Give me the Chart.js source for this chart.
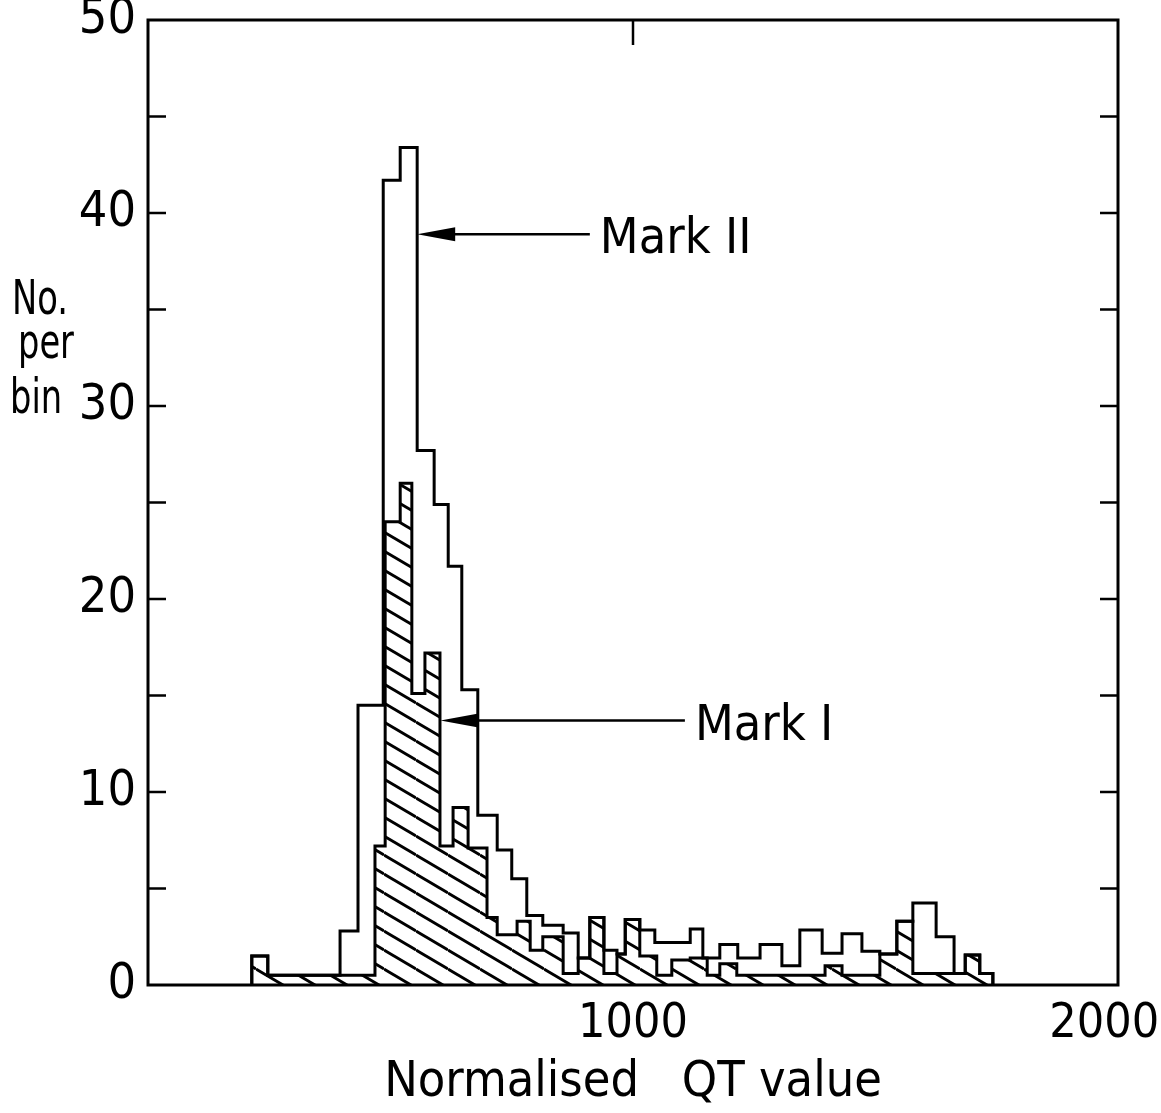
<!DOCTYPE html>
<html>
<head>
<meta charset="utf-8">
<script src="https://cdn.jsdelivr.net/npm/chart.js@4.4.1/dist/chart.umd.min.js"></script>
<style>
    html, body { margin: 0; padding: 0; background: #fff; }
</style>
</head>
<body>
<canvas id="qtChart" width="1161" height="1113"></canvas>
<script>
// bin edges (normalised QT value) and counts per bin
const markIIEdges = [214, 247, 396, 433, 485, 520, 555, 590, 619, 647, 680, 720, 750, 781, 814, 856, 887, 911, 940, 967,
    984, 1014, 1045, 1118, 1144, 1179, 1216, 1262, 1307, 1344, 1390, 1431, 1472, 1509, 1544, 1577, 1625, 1662, 1685, 1715, 1742];
const markIICounts = [1.5, 0.5, 2.8, 14.5, 41.7, 43.4, 27.7, 24.9, 21.7, 15.3, 8.8, 7.0, 5.5, 3.6, 3.1, 2.7, 1.4, 3.5, 1.8, 1.6,
    3.4, 2.85, 2.2, 2.9, 1.4, 2.1, 1.4, 2.1, 1.0, 2.85, 1.65, 2.65, 1.75, 1.6, 3.3, 4.25, 2.5, 0.6, 1.55, 0.6];

const markIEdges = [214, 247, 468, 489, 520, 544, 571, 602, 629, 660, 699, 720, 761, 788, 814, 856, 887, 911, 940, 967,
    984, 1014, 1049, 1080, 1118, 1153, 1179, 1214, 1396, 1431, 1509, 1544, 1577, 1685, 1715, 1742];
const markICounts = [1.5, 0.5, 7.2, 24.0, 26.0, 15.1, 17.2, 7.2, 9.2, 7.1, 3.5, 2.6, 3.3, 1.8, 2.5, 0.6, 1.4, 3.5, 0.6, 1.6,
    3.4, 1.5, 0.5, 1.3, 1.4, 0.5, 1.1, 0.5, 1.0, 0.5, 1.6, 3.3, 0.6, 1.55, 0.6];

const xTickValues = [1000, 2000];
const yTickValues = [0, 10, 20, 30, 40, 50];
const yTickMarks = [5, 10, 15, 20, 25, 30, 35, 40, 45];
const topTickMarks = [1000];
const yTitleLines = ["No.", "per", "bin"];
const xTitle = "Normalised   QT value";
const seriesNames = ["Mark II", "Mark I"];

// where the two arrows point (data units)
const arrowTips = [{ x: 555, y: 38.9, end: 911 }, { x: 603, y: 13.7, end: 1107 }];

const FAMILY = "'DejaVu Sans', sans-serif";
const STRETCH = "condensed";   // passed through the weight slot so Chart.js keeps it

function stepPoints(edges, counts) {
    const pts = [{ x: edges[0], y: 0 }];
    counts.forEach((c, i) => pts.push({ x: edges[i], y: c }));
    pts.push({ x: edges[edges.length - 1], y: 0 });
    return pts;
}

function makeHatch() {
    const w = 32, h = 19;
    const c = document.createElement("canvas");
    c.width = w; c.height = h;
    const g = c.getContext("2d");
    g.strokeStyle = "#000";
    g.lineWidth = 2.8;
    [-1, 0, 1].forEach(k => {
        g.beginPath();
        g.moveTo(0, k * h);
        g.lineTo(w, h + k * h);
        g.stroke();
    });
    return g.createPattern(c, "repeat");
}

// frame, inward ticks, y title, arrows + labels
const decorations = {
    id: "decorations",
    afterDraw(chart) {
        const { ctx, chartArea: a, scales } = chart;
        const x = scales.x, y = scales.y;
        ctx.save();
        ctx.strokeStyle = "#000";
        ctx.fillStyle = "#000";
        ctx.lineWidth = 3;
        ctx.strokeRect(a.left, a.top, a.right - a.left, a.bottom - a.top);

        ctx.lineWidth = 2.5;
        yTickMarks.forEach(v => {
            const py = y.getPixelForValue(v);
            ctx.beginPath();
            ctx.moveTo(a.left, py); ctx.lineTo(a.left + 18, py);
            ctx.moveTo(a.right, py); ctx.lineTo(a.right - 18, py);
            ctx.stroke();
        });
        topTickMarks.forEach(v => {
            const px = x.getPixelForValue(v);
            ctx.beginPath();
            ctx.moveTo(px, a.top); ctx.lineTo(px, a.top + 25);
            ctx.stroke();
        });

        // y title, horizontal, three lines, squeezed a little
        ctx.font = STRETCH + " 48px " + FAMILY;
        ctx.textAlign = "left";
        ctx.textBaseline = "alphabetic";
        const base = [314, 358, 413];
        const left = [12, 18, 10];
        yTitleLines.forEach((t, i) => {
            ctx.save();
            ctx.translate(left[i], base[i]);
            ctx.scale(0.78, 1);
            ctx.fillText(t, 0, 0);
            ctx.restore();
        });

        // arrows
        ctx.font = STRETCH + " 50px " + FAMILY;
        arrowTips.forEach((t, i) => {
            const tx = x.getPixelForValue(t.x);
            const ty = y.getPixelForValue(t.y);
            const ex = x.getPixelForValue(t.end);
            ctx.lineWidth = 2.5;
            ctx.beginPath();
            ctx.moveTo(tx + 30, ty); ctx.lineTo(ex, ty);
            ctx.stroke();
            ctx.beginPath();
            ctx.moveTo(tx, ty);
            ctx.lineTo(tx + 38, ty - 7);
            ctx.lineTo(tx + 38, ty + 7);
            ctx.closePath();
            ctx.fill();
            ctx.fillText(seriesNames[i], ex + 10, ty + 19);
        });
        ctx.restore();
    }
};

const ctx = document.getElementById("qtChart").getContext("2d");
new Chart(ctx, {
    type: "line",
    data: {
        datasets: [{
            label: seriesNames[0],
            data: stepPoints(markIIEdges, markIICounts),
            stepped: "before",
            borderColor: "#000",
            borderWidth: 3,
            fill: false,
            pointRadius: 0
        }, {
            label: seriesNames[1],
            data: stepPoints(markIEdges, markICounts),
            stepped: "before",
            borderColor: "#000",
            borderWidth: 3,
            backgroundColor: makeHatch(),
            fill: "origin",
            pointRadius: 0
        }]
    },
    options: {
        responsive: false,
        animation: false,
        devicePixelRatio: 1,
        layout: { padding: { left: 0, right: 43, top: 20, bottom: 0 } },
        plugins: {
            legend: { display: false },
            tooltip: { enabled: false }
        },
        scales: {
            x: {
                type: "linear",
                min: 0,
                max: 2000,
                afterBuildTicks: s => { s.ticks = xTickValues.map(v => ({ value: v })); },
                afterFit: s => { s.height = 128; s.paddingLeft = 0; s.paddingRight = 0; },
                grid: { display: false, drawTicks: false },
                border: { display: false },
                ticks: {
                    color: "#000",
                    font: { family: FAMILY, weight: STRETCH, size: 48 },
                    padding: 11,
                    maxRotation: 0,
                    autoSkip: false,
                    // trailing spaces nudge the last label left so it stays on the canvas
                    callback: (v, i) => i === xTickValues.length - 1 ? v + "  " : String(v)
                },
                title: {
                    display: true,
                    text: xTitle,
                    color: "#000",
                    font: { family: FAMILY, weight: STRETCH, size: 50 },
                    padding: 0
                }
            },
            y: {
                min: 0,
                max: 50,
                afterBuildTicks: s => { s.ticks = yTickValues.map(v => ({ value: v })); },
                afterFit: s => { s.width = 148; s.paddingTop = 0; s.paddingBottom = 0; },
                grid: { display: false, drawTicks: false },
                border: { display: false },
                ticks: {
                    color: "#000",
                    font: { family: FAMILY, weight: STRETCH, size: 50 },
                    padding: 12,
                    callback: v => String(v)
                }
            }
        }
    },
    plugins: [decorations]
});
</script>
</body>
</html>
